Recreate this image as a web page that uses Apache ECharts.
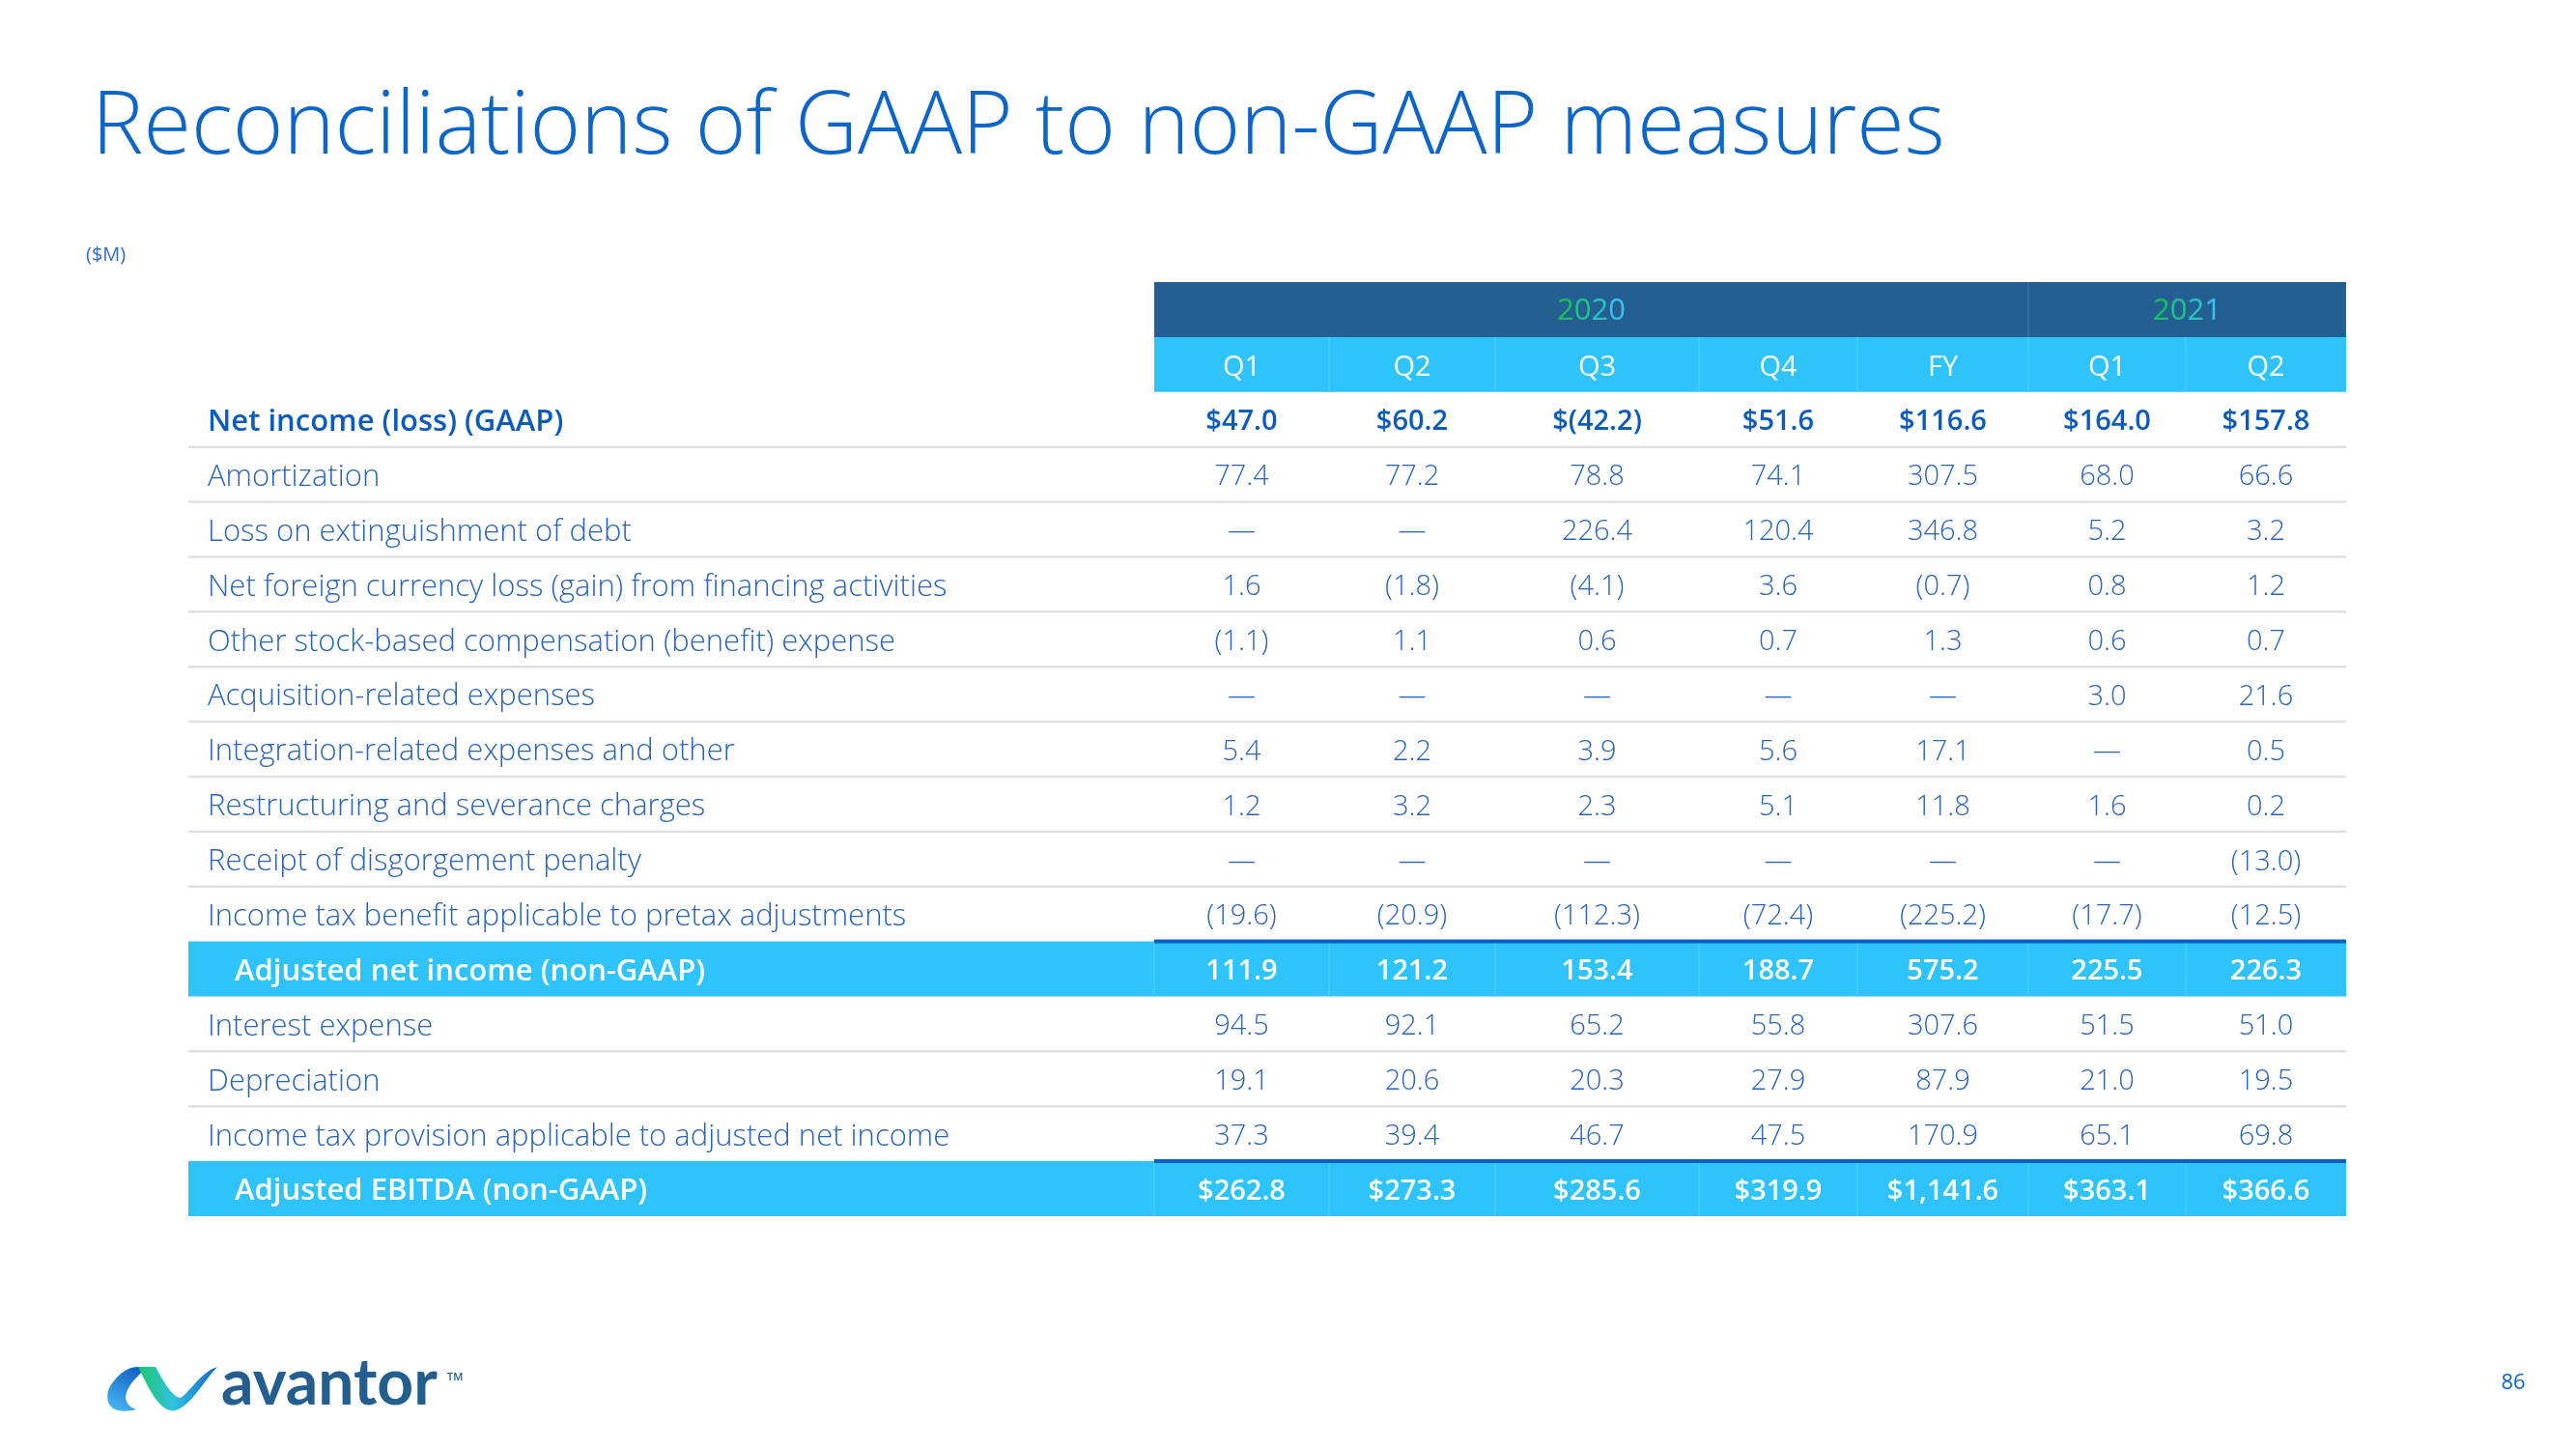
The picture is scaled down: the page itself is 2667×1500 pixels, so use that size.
<!DOCTYPE html>
<html>
<head>
<meta charset="utf-8">
<script src="https://cdn.jsdelivr.net/npm/echarts@6/dist/echarts.min.js"></script>
<style>
html,body{margin:0;padding:0;background:#fff;}
#main{width:2667px;height:1500px;}
</style>
</head>
<body>
<div id="main"></div>
<script>
// ---------------- DATA ----------------
const titleText = 'Reconciliations of GAAP to non-GAAP measures';
const unitText = '($M)';
const pageNumber = '86';
const yearLabels = ['2020', '2021'];
const yearSpans = [5, 2];
const periods = ['Q1', 'Q2', 'Q3', 'Q4', 'FY', 'Q1', 'Q2'];
const rowLabels = [
  'Net income (loss) (GAAP)',
  'Amortization',
  'Loss on extinguishment of debt',
  'Net foreign currency loss (gain) from financing activities',
  'Other stock-based compensation (benefit) expense',
  'Acquisition-related expenses',
  'Integration-related expenses and other',
  'Restructuring and severance charges',
  'Receipt of disgorgement penalty',
  'Income tax benefit applicable to pretax adjustments',
  'Adjusted net income (non-GAAP)',
  'Interest expense',
  'Depreciation',
  'Income tax provision applicable to adjusted net income',
  'Adjusted EBITDA (non-GAAP)'
];
const netIncome      = [47.0, 60.2, -42.2, 51.6, 116.6, 164.0, 157.8];
const amortization   = [77.4, 77.2, 78.8, 74.1, 307.5, 68.0, 66.6];
const lossOnDebt     = [null, null, 226.4, 120.4, 346.8, 5.2, 3.2];
const fxLoss         = [1.6, -1.8, -4.1, 3.6, -0.7, 0.8, 1.2];
const otherStock     = [-1.1, 1.1, 0.6, 0.7, 1.3, 0.6, 0.7];
const acquisition    = [null, null, null, null, null, 3.0, 21.6];
const integration    = [5.4, 2.2, 3.9, 5.6, 17.1, null, 0.5];
const restructuring  = [1.2, 3.2, 2.3, 5.1, 11.8, 1.6, 0.2];
const disgorgement   = [null, null, null, null, null, null, -13.0];
const taxBenefit     = [-19.6, -20.9, -112.3, -72.4, -225.2, -17.7, -12.5];
const adjNetIncome   = [111.9, 121.2, 153.4, 188.7, 575.2, 225.5, 226.3];
const interestExp    = [94.5, 92.1, 65.2, 55.8, 307.6, 51.5, 51.0];
const depreciation   = [19.1, 20.6, 20.3, 27.9, 87.9, 21.0, 19.5];
const taxProvision   = [37.3, 39.4, 46.7, 47.5, 170.9, 65.1, 69.8];
const adjEbitda      = [262.8, 273.3, 285.6, 319.9, 1141.6, 363.1, 366.6];
const rowValues = [netIncome, amortization, lossOnDebt, fxLoss, otherStock, acquisition,
  integration, restructuring, disgorgement, taxBenefit, adjNetIncome, interestExp,
  depreciation, taxProvision, adjEbitda];
const dollarRows = [0, 14];
const boldRows = [0];
const totalRows = [10, 14];

// ---------------- LAYOUT / STYLE ----------------
const colWeights = [1000, 181, 172, 211, 164, 177, 163, 166]; // label column + 7 data columns
const edges = [0];
colWeights.forEach(w => edges.push(edges[edges.length - 1] + w));
const totalW = edges[edges.length - 1];
const FONT = '"Open Sans", Lato, sans-serif';
const C = {
  dark: '#245f91', cyan: '#2ec4fb', cyanDiv: '#4ccdfb', darkDiv: '#3c74a3',
  rule: '#e0e0e0', totalLine: '#0c5ebf', text: '#2a64b4', bold: '#0b5bbd', title: '#0d65c6'
};
const yearCharColors = ['#17c25c', '#1ec48e', '#27c5c4', '#3bc2ee'];

const rowKeys = ['year', 'period'].concat(rowLabels);
const HDR = 2;

function fmt(v, dollar) {
  if (v === null || v === undefined) return '\u2014';
  const s = Math.abs(v).toLocaleString('en-US', {minimumFractionDigits: 1, maximumFractionDigits: 1});
  return (dollar ? '$' : '') + (v < 0 ? '(' + s + ')' : s);
}

// ---------------- CELLS ----------------
const cells = [];
let cStart = 1;
yearLabels.forEach((y, i) => {
  cells.push({c0: cStart, c1: cStart + yearSpans[i], r: 0, text: y, kind: 'year'});
  cStart += yearSpans[i];
});
periods.forEach((p, i) => cells.push({c0: i + 1, c1: i + 2, r: 1, text: p, kind: 'period'}));
rowLabels.forEach((lab, d) => {
  const kind = totalRows.includes(d) ? 'total' : (boldRows.includes(d) ? 'bold' : 'normal');
  cells.push({c0: 0, c1: 1, r: d + HDR, text: lab, kind: kind, label: true});
  rowValues[d].forEach((v, j) => {
    cells.push({c0: j + 1, c1: j + 2, r: d + HDR, text: fmt(v, dollarRows.includes(d)), kind: kind});
  });
});

function cellRect(api, c0, c1, r) {
  const xa = api.coord([edges[c0], r])[0];
  const xb = api.coord([edges[c1], r])[0];
  const yc = api.coord([0, r])[1];
  const h = api.size([0, 1])[1];
  return {xa, xb, yc, h, top: yc - h / 2, bottom: yc + h / 2};
}

function renderRow(params, api) {
  const r = params.dataIndex;
  const children = [];
  const full = cellRect(api, 0, 8, r);
  const data = cellRect(api, 1, 8, r);
  const divider = (i, color) => {
    const x = api.coord([edges[i], r])[0];
    children.push({type: 'rect', shape: {x: x - 0.75, y: full.top, width: 1.5, height: full.h}, style: {fill: color}});
  };
  if (r === 0) {
    children.push({type: 'rect', shape: {x: data.xa, y: data.top, width: data.xb - data.xa, height: data.h + 0.5}, style: {fill: C.dark}});
    divider(1 + yearSpans[0], C.darkDiv);
  } else if (r === 1) {
    children.push({type: 'rect', shape: {x: data.xa, y: data.top, width: data.xb - data.xa, height: data.h}, style: {fill: C.cyan}});
    for (let i = 2; i <= 7; i++) divider(i, C.cyanDiv);
  } else {
    const d = r - HDR;
    if (totalRows.includes(d)) {
      children.push({type: 'rect', shape: {x: full.xa, y: full.top, width: full.xb - full.xa, height: full.h}, style: {fill: C.cyan}});
      for (let i = 1; i <= 7; i++) divider(i, C.cyanDiv);
      children.push({type: 'rect', shape: {x: data.xa, y: data.top - 2, width: data.xb - data.xa, height: 4}, style: {fill: C.totalLine}});
    } else if (d < rowLabels.length - 1 && !totalRows.includes(d + 1)) {
      children.push({type: 'rect', shape: {x: full.xa, y: full.bottom - 1.25, width: full.xb - full.xa, height: 2.5}, style: {fill: C.rule}});
    }
  }
  return {type: 'group', children: children};
}

function renderCell(params, api) {
  const c = cells[params.dataIndex];
  const b = cellRect(api, c.c0, c.c1, c.r);
  let fill = C.text, weight = 300, size = 29;
  let x = (b.xa + b.xb) / 2, align = 'center';
  if (c.kind === 'year') {
    const rich = {};
    let txt = '';
    c.text.split('').forEach((ch, k) => {
      rich['c' + k] = {fill: yearCharColors[k % yearCharColors.length], fontFamily: FONT, fontSize: 31, fontWeight: 400};
      txt += '{c' + k + '|' + ch + '}';
    });
    return {type: 'text', style: {text: txt, rich: rich, x: x, y: b.yc + 2, align: 'center', verticalAlign: 'middle'}};
  }
  if (c.kind === 'period') { fill = '#ffffff'; weight = 400; }
  else if (c.kind === 'total') { fill = '#ffffff'; weight = 600; }
  else if (c.kind === 'bold') { fill = C.bold; weight = 600; }
  if (c.label) { align = 'left'; size = 31; x = b.xa + (c.kind === 'total' ? 48 : 20); }
  return {
    type: 'text',
    style: {text: c.text, x: x, y: b.yc + 3, align: align, verticalAlign: 'middle',
      fontFamily: FONT, fontSize: size, fontWeight: weight, fill: fill}
  };
}

// decorative page furniture (title, unit, logo, page number) - not data marks
function renderPage() {
  return {type: 'group', children: [
    {type: 'text', style: {text: titleText, x: 95, y: 133, verticalAlign: 'middle', fontFamily: FONT, fontSize: 90, fontWeight: 300, fill: C.title}},
    {type: 'text', style: {text: unitText, x: 89, y: 264, verticalAlign: 'middle', fontFamily: FONT, fontSize: 20, fontWeight: 400, fill: '#2f6cc0'}},
    {type: 'text', style: {text: pageNumber, x: 2602, y: 1432, align: 'center', verticalAlign: 'middle', fontFamily: FONT, fontSize: 22, fontWeight: 400, fill: C.title}},
    {type: 'path', shape: {pathData: 'M 122 1460 C 110 1457, 108 1443, 116 1432 C 124 1421, 133 1415, 143 1415 L 154 1415 C 141 1424, 131 1436, 130 1446 C 130 1452, 134 1457, 141 1459 C 134 1461, 127 1461, 122 1460 Z'},
     style: {fill: {type: 'linear', x: 0, y: 1, x2: 0.6, y2: 0, colorStops: [{offset: 0, color: '#4cbdf5'}, {offset: 1, color: '#1262c6'}]}}},
    {type: 'path', shape: {pathData: 'M 143 1415 L 161 1415 C 169 1430, 179 1447, 187 1447 C 196 1442, 208 1420, 225 1415 C 212 1428, 198 1455, 182 1460 C 170 1463, 160 1448, 152 1433 Z'},
     style: {fill: {type: 'linear', x: 0, y: 0, x2: 1, y2: 0, colorStops: [{offset: 0, color: '#1ec86a'}, {offset: 0.45, color: '#30c2e2'}, {offset: 1, color: '#1462c8'}]}}},
    {type: 'text', style: {text: 'avantor', x: 229, y: 1433, verticalAlign: 'middle', fontFamily: 'Lato, sans-serif', fontSize: 66, fontWeight: 700, fill: '#245e8e'}},
    {type: 'text', style: {text: 'TM', x: 463, y: 1426, verticalAlign: 'middle', fontFamily: FONT, fontSize: 11, fontWeight: 600, fill: '#245e8e'}}
  ]};
}

const chart = echarts.init(document.getElementById('main'), null, {renderer: 'canvas'});
chart.setOption({
  animation: false,
  backgroundColor: '#ffffff',
  grid: {left: 195, right: 2667 - 2429, top: 292, bottom: 1500 - 1259, containLabel: false},
  xAxis: {type: 'value', min: 0, max: totalW, show: false},
  yAxis: {type: 'category', inverse: true, data: rowKeys, show: false},
  series: [
    {type: 'custom', name: 'rows', silent: true, clip: false, renderItem: renderRow,
     data: rowKeys.map((k, i) => [0, i])},
    {type: 'custom', name: 'cells', silent: true, clip: false, renderItem: renderCell,
     data: cells.map(c => [edges[c.c0], c.r])},
    {type: 'custom', name: 'page', silent: true, coordinateSystem: 'none', renderItem: renderPage, data: [0]}
  ]
});
</script>
</body>
</html>
